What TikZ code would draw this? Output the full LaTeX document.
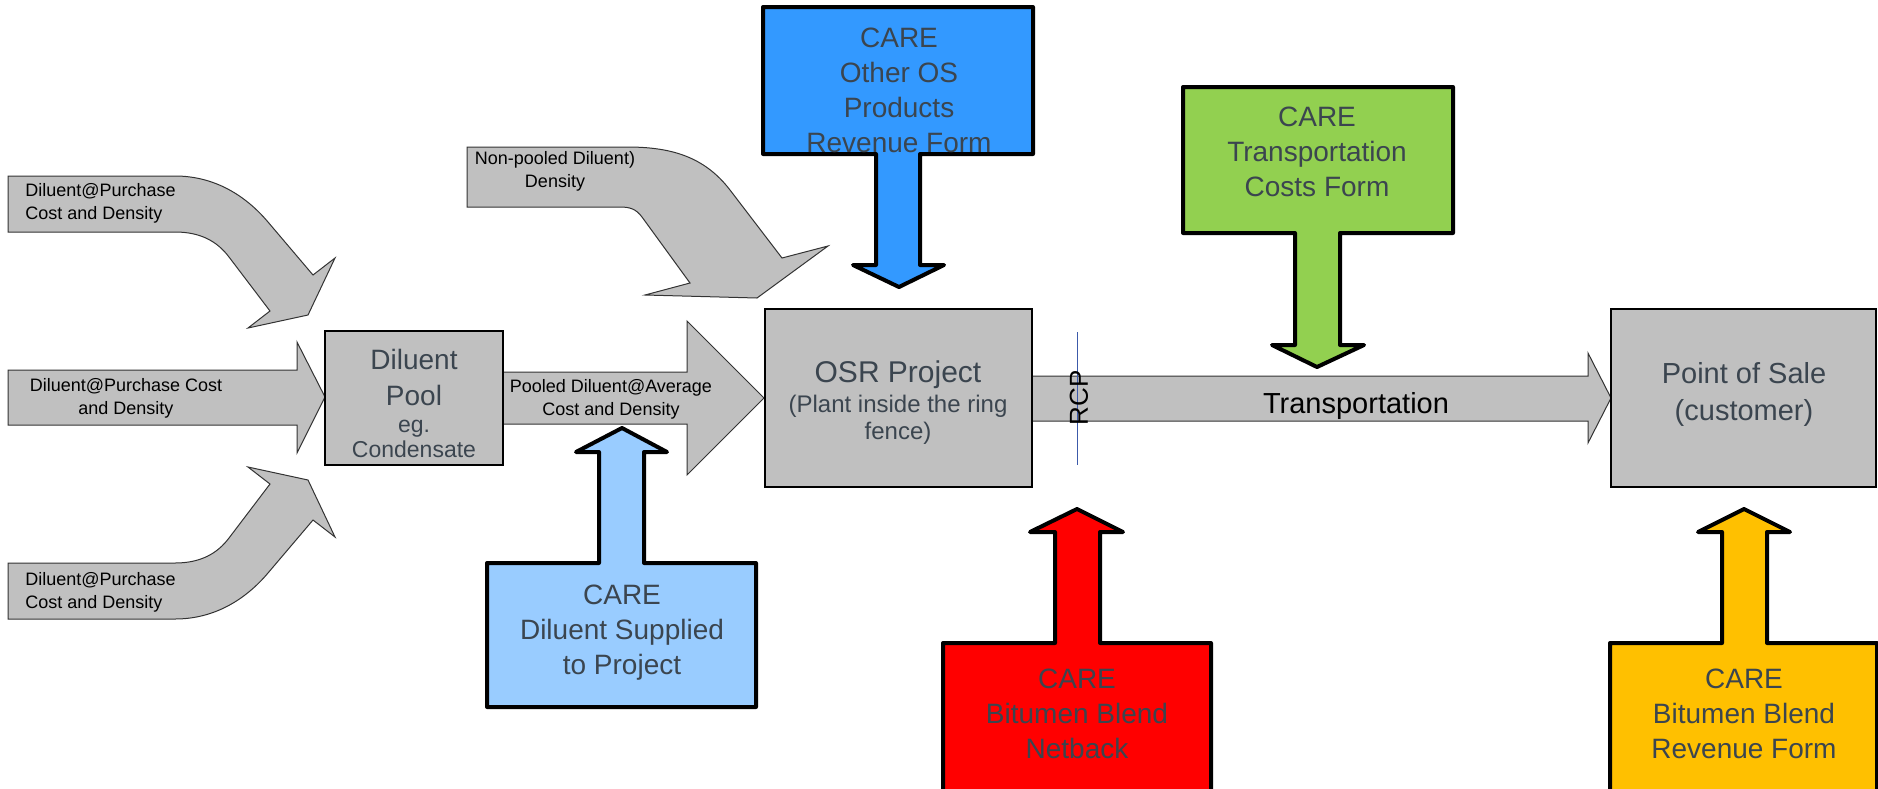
\documentclass[tikz,border=0pt]{standalone}
\usepackage{fontspec}
\setmainfont{Liberation Sans}
\definecolor{arrowgray}{RGB}{192,192,192}
\definecolor{boxtext}{RGB}{59,69,79}
\definecolor{careblue}{RGB}{51,153,255}
\definecolor{carelight}{RGB}{153,204,255}
\definecolor{caregreen}{RGB}{146,208,80}
\definecolor{carered}{RGB}{255,0,0}
\definecolor{careyellow}{RGB}{255,192,0}
\definecolor{rcpblue}{RGB}{60,90,170}
\begin{document}
\begin{tikzpicture}[x=0.5pt, y=-0.5pt,
        flowarrow/.style={fill=arrowgray, draw=black!80, line width=0.5pt},
        stagebox/.style={rectangle, draw=black, fill=arrowgray, line width=1pt, inner sep=0pt},
        careform/.style={draw=black, line width=2pt, line join=round},
        flowtext/.style={font=\fontsize{9}{11.5}\selectfont, inner sep=0pt, align=center},
        stagetext/.style={text=boxtext, inner sep=0pt, align=center},
        caretext/.style={font=\fontsize{14}{17.5}\selectfont, text=boxtext, inner sep=0pt, align=center}
    ]
        \useasboundingbox (0,0) rectangle (1878,788);

        % Diluent purchases (left)
        \draw[flowarrow] (8,176) -- (175,176) .. controls (215,176) and (246,196) .. (268,222)
            -- (313,275) -- (335,258) -- (308,315) -- (248,328) -- (270,311) -- (229,257)
            .. controls (217,241) and (200,232) .. (175,232) -- (8,232) -- cycle;
        \draw[flowarrow] (8,370) -- (297,370) -- (297,342) -- (325,397) -- (297,453) -- (297,425) -- (8,425) -- cycle;
        \draw[flowarrow] (8,619) -- (175,619) .. controls (215,619) and (246,599) .. (268,573)
            -- (313,520) -- (335,537) -- (308,480) -- (248,467) -- (270,484) -- (229,538)
            .. controls (217,554) and (200,563) .. (175,563) -- (8,563) -- cycle;

        % Diluent to the project
        \draw[flowarrow] (467,147) -- (627,147) .. controls (670,147) and (704,156) .. (730,190)
            -- (782,258) -- (828,246) -- (757,298) -- (645,295) -- (690,283) -- (642,217)
            .. controls (636,209) and (630,207) .. (620,207) -- (467,207) -- cycle;
        \draw[flowarrow] (503,372) -- (687,372) -- (687,321) -- (764,398) -- (687,475) -- (687,424) -- (503,424) -- cycle;

        % Transportation
        \draw[flowarrow] (1032,376) -- (1588,376) -- (1588,353) -- (1611,398) -- (1588,443) -- (1588,421) -- (1032,421) -- cycle;

        % Stages
        \node[stagebox, minimum width=89pt, minimum height=67pt] (pool) at (414,398) {};
        \node[stagebox, minimum width=133.5pt, minimum height=89pt] (osr) at (898.5,398) {};
        \node[stagebox, minimum width=132.5pt, minimum height=89pt] (pos) at (1743.5,398) {};

        % Ring fence
        \coordinate (rcptop) at (1077,332);
        \coordinate (rcpbot) at (1077,465);
        \draw[rcpblue, line width=0.5pt] (rcptop) -- (rcpbot);

        % CARE forms
        \draw[careform, fill=careblue] (763,7) -- (1033,7) -- (1033,154) -- (920,154) -- (920,265) -- (944,265)
            -- (899,287) -- (853,265) -- (876,265) -- (876,154) -- (763,154) -- cycle;
        \draw[careform, fill=caregreen] (1183,87) -- (1453,87) -- (1453,233) -- (1340,233) -- (1340,345) -- (1364,345)
            -- (1317,367) -- (1272,345) -- (1295,345) -- (1295,233) -- (1183,233) -- cycle;
        \draw[careform, fill=carelight] (487,707) -- (756,707) -- (756,563) -- (644,563) -- (644,452) -- (667,452)
            -- (622,428) -- (576,452) -- (599,452) -- (599,563) -- (487,563) -- cycle;
        \draw[careform, fill=carered] (943,800) -- (1211,800) -- (1211,643) -- (1100,643) -- (1100,532) -- (1123,532)
            -- (1077,509) -- (1030,532) -- (1055,532) -- (1055,643) -- (943,643) -- cycle;
        \draw[careform, fill=careyellow] (1610,800) -- (1877,800) -- (1877,643) -- (1767,643) -- (1767,532) -- (1790,532)
            -- (1744,509) -- (1698,532) -- (1722,532) -- (1722,643) -- (1610,643) -- cycle;

        % Texts
        \node[flowtext, anchor=west, align=left] (buytop) at (25,203) {Diluent@Purchase\\Cost and Density};
        \node[flowtext] (buymid) at (126,398) {Diluent@Purchase Cost\\and Density};
        \node[flowtext, anchor=west, align=left] (buybot) at (25,592) {Diluent@Purchase\\Cost and Density};
        \node[flowtext] (nonpooled) at (555,171) {Non-pooled Diluent)\\Density};
        \node[flowtext] (pooled) at (611,399) {Pooled Diluent@Average\\Cost and Density};

        \node[stagetext, font=\fontsize{14}{18}\selectfont] (pooltitle) at (414,377) {Diluent\\Pool};
        \node[stagetext, font=\fontsize{11.5}{12.5}\selectfont] (poolnote) at (414,439) {eg.\\Condensate};
        \node[stagetext, font=\fontsize{15}{18}\selectfont] (osrtitle) at (898,375) {OSR Project};
        \node[stagetext, font=\fontsize{12}{13.5}\selectfont] (osrnote) at (898,420) {(Plant inside the ring\\fence)};
        \node[stagetext, font=\fontsize{14.5}{18.5}\selectfont] (postitle) at (1744,394) {Point of Sale\\(customer)};

        \node[font=\fontsize{13}{15}\selectfont, rotate=90, inner sep=0pt] (rcp) at (1079,398) {RCP};
        \node[font=\fontsize{14.5}{17}\selectfont, inner sep=0pt] (transport) at (1356,406) {Transportation};

        \node[caretext] (otheros) at (899,90) {CARE\\Other OS\\Products\\Revenue Form};
        \node[caretext] (transcost) at (1317,152) {CARE\\Transportation\\Costs Form};
        \node[caretext] (supplied) at (622,633) {CARE\\Diluent Supplied\\to Project};
        \node[caretext] (netback) at (1077,714) {CARE\\Bitumen Blend\\Netback};
        \node[caretext] (blendrev) at (1744,714) {CARE\\Bitumen Blend\\Revenue Form};
    \end{tikzpicture}
\end{document}
